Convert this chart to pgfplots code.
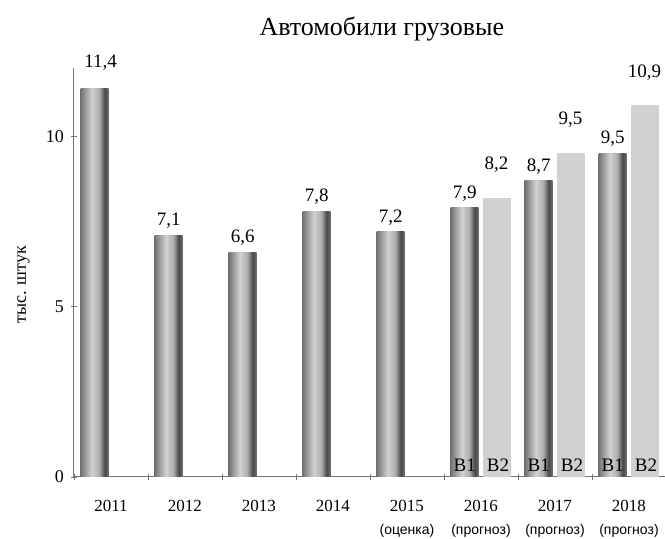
\documentclass[border=0pt]{standalone}
\usepackage{fontspec}
\setmainfont{Liberation Serif}
\newfontfamily\subfont{Liberation Sans}
\usepackage{pgfplots}
\pgfplotsset{compat=1.18}

% cylinder-like shading for the dark bars (path maps to 25bp..75bp)
\pgfdeclarehorizontalshading{cylgray}{100bp}{color(0bp)=(black!55); color(25bp)=(black!55);
  color(30bp)=(black!45); color(45bp)=(black!18); color(58bp)=(black!32);
  color(68bp)=(black!72); color(75bp)=(black!55); color(100bp)=(black!55)}

\newcommand{\sub}[1]{{\subfont\fontsize{7}{11.5}\selectfont #1}}

\pgfplotsset{
  vallabel/.style={
    nodes near coords={\pgfmathprintnumber[fixed,fixed zerofill,precision=1,use comma,assume math mode=true]{\pgfplotspointmeta}},
    nodes near coords style={font=\fontsize{9.5}{10}\selectfont, anchor=south, inner sep=0pt, yshift=#1}},
  % one plot per bar, so that each bar gets its own shading
  darkbar/.style={ybar, bar width=14pt, bar shift=0pt, draw=none, shade, shading=cylgray, vallabel=3pt},
  lightbar/.style={ybar, bar width=14pt, bar shift=0pt, draw=none, fill=black!18, vallabel=12.5pt},
}

\begin{document}
\begin{tikzpicture}
\begin{axis}[
    name=ax,
    scale only axis,
    width=296pt, height=204.5pt,
    xmin=0, xmax=8, ymin=0, ymax=12,
    axis lines=left,
    axis line style={-, draw=black!55, line width=0.5pt},
    xtick={0,...,8},
    x tick label as interval,
    xticklabels={2011,2012,2013,2014,
      {2015\\\sub{(оценка)}},{2016\\\sub{(прогноз)}},
      {2017\\\sub{(прогноз)}},{2018\\\sub{(прогноз)}}},
    xticklabel style={font=\fontsize{8.5}{11.5}\selectfont, align=center, yshift=-6.5pt},
    ytick={0,5,10},
    yticklabel style={font=\fontsize{9}{10}\selectfont},
    /pgf/number format/assume math mode=true,
    tick align=center,
    major tick length=3pt,
    tick style={black!55, line width=0.4pt},
    ylabel={тыс. штук},
    ylabel style={at={(axis description cs:-0.085,0.47)}, anchor=center,
      font=\fontsize{9}{10}\selectfont},
    title={Автомобили грузовые},
    title style={at={(axis description cs:0.52,1.066)}, anchor=center,
      font=\fontsize{13}{15}\selectfont},
]
% В1 and single-year bars
\addplot[darkbar, nodes near coords style={xshift=3pt, yshift=6pt}] coordinates {(0.28,11.4)};
\addplot[darkbar] coordinates {(1.28,7.1)};
\addplot[darkbar] coordinates {(2.28,6.6)};
\addplot[darkbar] coordinates {(3.28,7.8)};
\addplot[darkbar] coordinates {(4.28,7.2)};
\addplot[darkbar] coordinates {(5.28,7.9)};
\addplot[darkbar] coordinates {(6.28,8.7)};
\addplot[darkbar] coordinates {(7.28,9.5)};
% В2 bars
\addplot[lightbar] coordinates {(5.71,8.2)};
\addplot[lightbar] coordinates {(6.71,9.5)};
\addplot[lightbar] coordinates {(7.71,10.9)};
% variant names at the foot of the bars
\addplot[draw=none, mark=none, point meta=explicit symbolic,
    nodes near coords={\pgfplotspointmeta},
    nodes near coords style={font=\fontsize{9.5}{10}\selectfont, anchor=south, inner sep=0pt, yshift=2.5pt}]
  table[meta=lab] {
x    y lab
5.28 0 В1
5.73 0 В2
6.28 0 В1
6.73 0 В2
7.28 0 В1
7.73 0 В2
};
\end{axis}
\pgfresetboundingbox
\path (ax.south west) ++(-37pt,-31pt) rectangle ++(332.5pt,269.5pt);
\end{tikzpicture}
\end{document}
